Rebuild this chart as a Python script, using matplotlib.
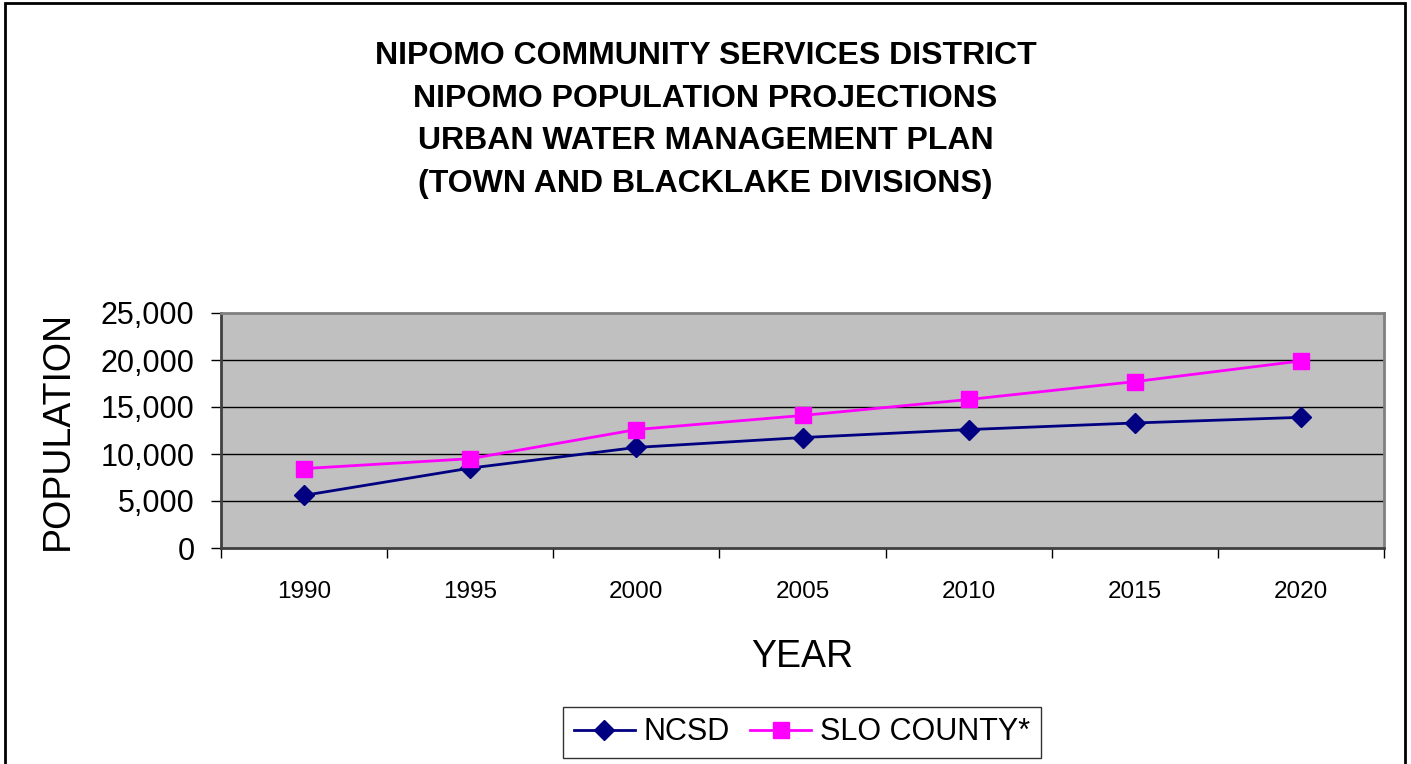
import matplotlib.pyplot as plt
from matplotlib.patches import Rectangle
from matplotlib.ticker import FuncFormatter

plt.rcParams['font.family'] = ['Liberation Sans', 'DejaVu Sans']

years = ['1990', '1995', '2000', '2005', '2010', '2015', '2020']
ncsd = [5600, 8500, 10700, 11750, 12600, 13300, 13900]
slo = [8450, 9500, 12600, 14100, 15800, 17700, 19900]

fig = plt.figure(figsize=(14.11, 7.64), dpi=100)
ax = fig.add_axes([221/1411, 1-548/764, (1384-221)/1411, (548-313)/764])
ax.set_facecolor('#C0C0C0')

x = list(range(len(years)))
ax.plot(x, ncsd, color='#000080', marker='D', markersize=10.5, lw=2, label='NCSD')
ax.plot(x, slo, color='#FF00FF', marker='s', markersize=11.5, lw=2, label='SLO COUNTY*')

ax.set_xlim(-0.5, len(years) - 0.5)
ax.set_ylim(0, 25000)
ax.set_yticks(range(0, 25001, 5000))
ax.yaxis.set_major_formatter(FuncFormatter(lambda v, p: f'{int(v):,}'))
ax.tick_params(axis='y', labelsize=22, length=7, width=1, direction='out', pad=12)
for v in range(5000, 25000, 5000):
    ax.axhline(v, color='black', lw=1, zorder=1)

# ticks between categories, labels at the centres
ax.set_xticks([i - 0.5 for i in range(len(years) + 1)])
ax.set_xticklabels([])
ax.set_xticks(x, minor=True)
ax.set_xticklabels(years, minor=True, fontsize=17.5)
ax.tick_params(axis='x', which='major', length=7, width=1, direction='out')
ax.tick_params(axis='x', which='minor', length=0, pad=24)

for s in ax.spines.values():
    s.set_color('#808080')
    s.set_linewidth(2)
ax.spines['left'].set_color('#404040')
ax.spines['bottom'].set_color('#404040')

ax.set_xlabel('YEAR', fontsize=27, labelpad=26)
ax.set_ylabel('POPULATION', fontsize=27, labelpad=18)

fig.text(0.5, 1-41/764, 'NIPOMO COMMUNITY SERVICES DISTRICT\nNIPOMO POPULATION PROJECTIONS\n'
         'URBAN WATER MANAGEMENT PLAN\n(TOWN AND BLACKLAKE DIVISIONS)',
         ha='center', va='top', fontsize=23, fontweight='bold', linespacing=1.55)

fig.legend(loc='lower center', bbox_to_anchor=(802/1411, 6/764), ncol=2, fontsize=22,
           frameon=True, fancybox=False, edgecolor='black', handlelength=2.0,
           columnspacing=0.65, handletextpad=0.3, borderpad=0.35, borderaxespad=0)

fig.patches.append(Rectangle((5/1411, -0.01), 1400/1411, 1-3/764+0.01, transform=fig.transFigure,
                             fill=False, edgecolor='black', lw=2))

fig.savefig('out.png', dpi=100)
